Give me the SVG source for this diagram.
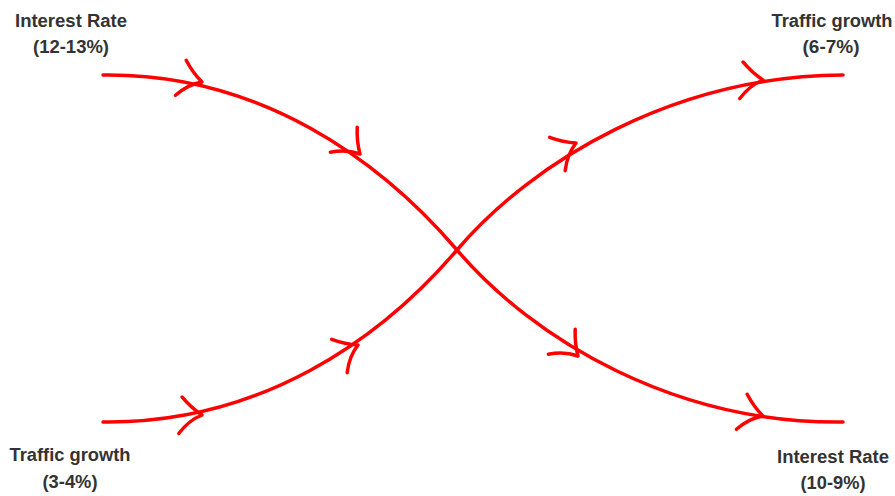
<svg xmlns="http://www.w3.org/2000/svg" width="895" height="496" viewBox="0 0 895 496">
<style>
.lbl{font-family:"Liberation Sans",Arial,sans-serif;font-weight:bold;font-size:17.5px;fill:#333;text-anchor:middle}
.ln{fill:none;stroke:#ff0000;stroke-width:3.5;stroke-linecap:round;stroke-linejoin:round}
</style>
<defs>
<path id="chev" class="ln" d="M-18,-20 Q-10,-8 0,0 Q-14,4 -25,16"/>
</defs>
<rect width="895" height="496" fill="#fff"/>
<g id="connectors">
<path class="ln" d="M103,75 C260,73 380,160 457,250 S675,424 843,422"/>
<path class="ln" d="M103,422 C260,424 380,340 457,250 S675,76 843,75"/>
<use href="#chev" transform="translate(202,82) rotate(6)"/>
<use href="#chev" transform="translate(360,154) rotate(36)"/>
<use href="#chev" transform="translate(578,356) rotate(36)"/>
<use href="#chev" transform="translate(763,416) rotate(6)"/>
<use href="#chev" transform="translate(202,415) rotate(-6)"/>
<use href="#chev" transform="translate(358,345) rotate(-36)"/>
<use href="#chev" transform="translate(576,143) rotate(-36)"/>
<use href="#chev" transform="translate(763,80) rotate(-6)"/>
</g>
<g id="n-interest-start"><text class="lbl" x="71" y="27" textLength="112" lengthAdjust="spacingAndGlyphs">Interest Rate</text><text class="lbl" x="71" y="53" textLength="76" lengthAdjust="spacingAndGlyphs">(12-13%)</text></g>
<g id="n-traffic-end"><text class="lbl" x="832" y="27" textLength="121" lengthAdjust="spacingAndGlyphs">Traffic growth</text><text class="lbl" x="831" y="53" textLength="57" lengthAdjust="spacingAndGlyphs">(6-7%)</text></g>
<g id="n-traffic-start"><text class="lbl" x="70" y="461" textLength="121" lengthAdjust="spacingAndGlyphs">Traffic growth</text><text class="lbl" x="70" y="488" textLength="55" lengthAdjust="spacingAndGlyphs">(3-4%)</text></g>
<g id="n-interest-end"><text class="lbl" x="833" y="463" textLength="112" lengthAdjust="spacingAndGlyphs">Interest Rate</text><text class="lbl" x="833" y="489" textLength="65" lengthAdjust="spacingAndGlyphs">(10-9%)</text></g>
</svg>
